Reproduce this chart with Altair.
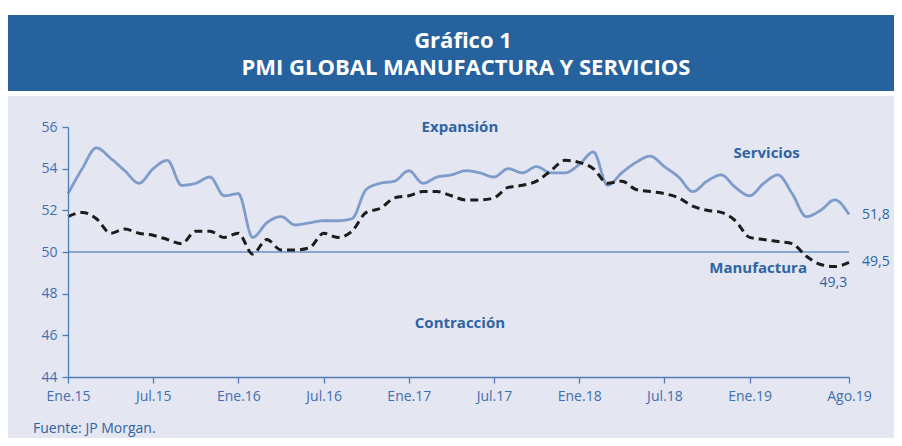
import json
import altair as alt
import pandas as pd

# ---------------- data ----------------
tick_labels = ["Ene.15", "Jul.15", "Ene.16", "Jul.16", "Ene.17", "Jul.17",
               "Ene.18", "Jul.18", "Ene.19", "Ago.19"]
tick_months = [0, 6, 12, 18, 24, 30, 36, 42, 48, 55]

servicios = [52.8, 54.0, 55.0, 54.5, 53.9, 53.3, 54.0, 54.4, 53.2, 53.3, 53.6, 52.7,
             52.8, 50.7, 51.4, 51.7, 51.3, 51.4, 51.5, 51.5, 51.6, 53.0, 53.3, 53.4,
             53.9, 53.3, 53.6, 53.7, 53.9, 53.8, 53.6, 54.0, 53.8, 54.1, 53.8, 53.8,
             54.2, 54.8, 53.2, 53.8, 54.3, 54.6, 54.1, 53.6, 52.9, 53.4, 53.7, 53.1,
             52.7, 53.3, 53.7, 52.8, 51.7, 52.0, 52.5, 51.8]
manufactura = [51.7, 51.9, 51.6, 50.9, 51.1, 50.9, 50.8, 50.6, 50.4, 51.0, 51.0, 50.7,
               50.9, 49.9, 50.6, 50.1, 50.1, 50.2, 50.9, 50.7, 51.0, 51.9, 52.1, 52.6,
               52.7, 52.9, 52.9, 52.7, 52.5, 52.5, 52.6, 53.1, 53.2, 53.4, 53.9, 54.4,
               54.3, 54.0, 53.3, 53.4, 53.0, 52.9, 52.8, 52.6, 52.2, 52.0, 51.9, 51.5,
               50.7, 50.6, 50.5, 50.4, 49.8, 49.4, 49.3, 49.5]

threshold = 50

# annotations: text, month position, value position
region_labels = ["Expansión", "Contracción"]
region_mes = [27.6, 27.6]
region_val = [56.0, 46.6]

series_labels = ["Servicios", "Manufactura"]
series_mes = [49.2, 48.6]
series_val = [54.75, 49.25]

end_labels = ["51,8", "49,5"]
end_vals = [51.8, 49.5]
min_label = "49,3"
min_mes = 53.9
min_val = 48.5

title_1 = "Gráfico 1"
title_2 = "PMI GLOBAL MANUFACTURA Y SERVICIOS"
source = "Fuente: JP Morgan."

# ---------------- styling ----------------
BLUE_TXT = "#2F64A3"
AXIS = "#4F7DB8"
SERV = "#7D9BCB"
FONT = "Open Sans"

W, H = 781, 250
PAD = {"left": 60, "top": 119, "right": 45, "bottom": 61}

n = len(servicios)
df = pd.DataFrame({
    "mes": list(range(n)) * 2,
    "valor": servicios + manufactura,
    "serie": ["Servicios"] * n + ["Manufactura"] * n,
})

xs = alt.Scale(domain=[0, n - 1], nice=False, zero=False)
ys = alt.Scale(domain=[44, 56], nice=False, zero=False)

label_expr = "{}[indexof({}, datum.value)]".format(json.dumps(tick_labels), json.dumps(tick_months))

one = pd.DataFrame({"k": [0]})

# background panels
bg = alt.Chart(one).mark_rect(color="#E4E6F1").encode(
    x=alt.value(-PAD["left"]), x2=alt.value(W + PAD["right"]),
    y=alt.value(-31), y2=alt.value(H + PAD["bottom"]))
band = alt.Chart(one).mark_rect(color="#26629E").encode(
    x=alt.value(-PAD["left"]), x2=alt.value(W + PAD["right"]),
    y=alt.value(-112), y2=alt.value(-36))
t1 = alt.Chart(one).mark_text(font=FONT, fontSize=22, fontWeight="bold", color="white").encode(
    x=alt.value(395), y=alt.value(-86), text=alt.value(title_1))
t2 = alt.Chart(one).mark_text(font=FONT, fontSize=22, fontWeight="bold", color="white").encode(
    x=alt.value(398), y=alt.value(-59), text=alt.value(title_2))
src = alt.Chart(one).mark_text(font=FONT, fontSize=14, color=BLUE_TXT, align="left").encode(
    x=alt.value(-35), y=alt.value(302), text=alt.value(source))

base = alt.Chart(df)

lines = base.mark_line(interpolate="monotone").encode(
    x=alt.X("mes:Q", scale=xs, axis=alt.Axis(values=tick_months, labelExpr=label_expr, title=None,
                                              grid=False, labelFlush=False, zindex=1)),
    y=alt.Y("valor:Q", scale=ys, axis=alt.Axis(values=list(range(44, 57, 2)), format="d",
                                                title=None, grid=False, zindex=1)),
    color=alt.Color("serie:N", scale=alt.Scale(domain=["Servicios", "Manufactura"],
                                               range=[SERV, "#1C1C1C"]), legend=None),
    strokeDash=alt.StrokeDash("serie:N", scale=alt.Scale(domain=["Servicios", "Manufactura"],
                                                         range=[[1, 0], [8, 5]]), legend=None),
    strokeWidth=alt.StrokeWidth("serie:N", scale=alt.Scale(domain=["Servicios", "Manufactura"],
                                                           range=[2.8, 3.0]), legend=None),
)

rule = alt.Chart(pd.DataFrame({"v": [threshold]})).mark_rule(color="#6B8FC6", strokeWidth=1.6).encode(
    y=alt.Y("v:Q", scale=ys), x=alt.value(0), x2=alt.value(W))

reg_df = pd.DataFrame({"t": region_labels + series_labels,
                       "mes": region_mes + series_mes,
                       "valor": region_val + series_val})
reg = alt.Chart(reg_df).mark_text(font=FONT, fontSize=15, fontWeight="bold", color=BLUE_TXT).encode(
    x=alt.X("mes:Q", scale=xs), y=alt.Y("valor:Q", scale=ys), text="t:N")

end_df = pd.DataFrame({"t": end_labels, "mes": [n - 1] * 2, "valor": end_vals})
ends = alt.Chart(end_df).mark_text(font=FONT, fontSize=14, color=BLUE_TXT, align="left", dx=13).encode(
    x=alt.X("mes:Q", scale=xs), y=alt.Y("valor:Q", scale=ys), text="t:N")

mn = alt.Chart(pd.DataFrame({"t": [min_label], "mes": [min_mes], "valor": [min_val]})).mark_text(
    font=FONT, fontSize=14, color=BLUE_TXT).encode(
    x=alt.X("mes:Q", scale=xs), y=alt.Y("valor:Q", scale=ys), text="t:N")

chart = alt.layer(bg, band, t1, t2, src, rule, lines, reg, ends, mn).properties(
    width=W, height=H, autosize=alt.AutoSizeParams(type="none"), padding=PAD,
    background="white",
).configure_view(stroke=None).configure_axis(
    domainColor=AXIS, tickColor=AXIS, labelColor="#3F6FAF", labelFont=FONT, labelFontSize=14,
    tickSize=6, domainWidth=1.3, tickWidth=1.3,
).configure_axisX(labelPadding=6).configure_axisY(labelPadding=5)

chart.save("out.html", embed_options={"renderer": "svg", "actions": False})
